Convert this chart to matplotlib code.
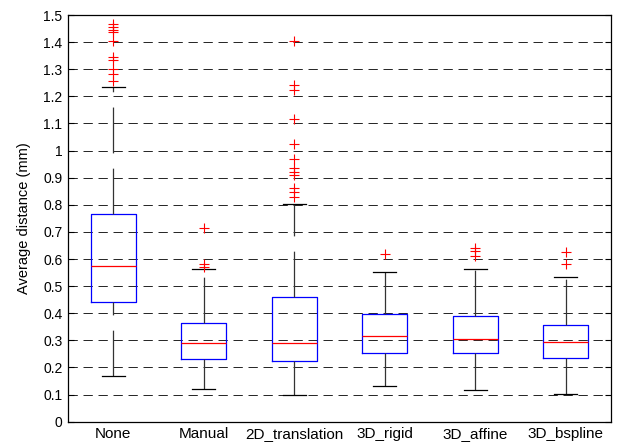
import matplotlib.pyplot as plt
import numpy as np

plt.rcParams['font.family'] = ['Liberation Sans', 'DejaVu Sans']
plt.rcParams['lines.scale_dashes'] = False

# box statistics
labels = ['None', 'Manual', '2D_translation', '3D_rigid', '3D_affine', '3D_bspline']
q1 = [0.443, 0.230, 0.225, 0.252, 0.252, 0.235]
med = [0.575, 0.290, 0.292, 0.316, 0.304, 0.294]
q3 = [0.766, 0.363, 0.461, 0.396, 0.391, 0.358]
whislo = [0.170, 0.120, 0.097, 0.133, 0.117, 0.103]
whishi = [1.233, 0.562, 0.803, 0.552, 0.562, 0.534]

# outliers
out_none = [1.465, 1.455, 1.445, 1.437, 1.405, 1.345, 1.335, 1.300, 1.283, 1.255]
out_manual = [0.713, 0.580, 0.570]
out_2d = [1.404, 1.242, 1.225, 1.115, 1.024, 0.970, 0.934, 0.921, 0.910,
          0.862, 0.846, 0.830]
out_rigid = [0.617]
out_affine = [0.640, 0.628, 0.613]
out_bspline = [0.625, 0.580]
fliers = [out_none, out_manual, out_2d, out_rigid, out_affine, out_bspline]

stats = []
for i in range(len(labels)):
    stats.append({'label': labels[i], 'q1': q1[i], 'med': med[i], 'q3': q3[i],
                  'whislo': whislo[i], 'whishi': whishi[i], 'fliers': fliers[i]})

fig = plt.figure(figsize=(6.22, 4.44), dpi=100)
ax = fig.add_axes([0.1093, 0.0502, 0.873, 0.916])

ax.yaxis.grid(True, color='black', linestyle=(0, (6.7, 4.1)), linewidth=0.6)
ax.set_axisbelow(True)

res = ax.bxp(stats, widths=0.5, capwidths=0.25,
             boxprops=dict(color='blue', linewidth=0.9),
             medianprops=dict(color='red', linewidth=0.9),
             whiskerprops=dict(color='#333333', linewidth=0.9, linestyle=(0, (33, 11))),
             capprops=dict(color='black', linewidth=0.9),
             flierprops=dict(marker='+', markeredgecolor='red', markersize=7,
                             markeredgewidth=0.8, linestyle='none'))

# lower whiskers start their dash pattern at the cap
for w in res['whiskers'][0::2]:
    w.set_ydata(w.get_ydata()[::-1])

ax.set_xlim(0.5, 6.5)
ax.set_ylim(0, 1.5)
ax.set_yticks(np.arange(0, 1.51, 0.1))
ax.set_yticklabels(['0', '0.1', '0.2', '0.3', '0.4', '0.5', '0.6', '0.7', '0.8', '0.9',
                    '1', '1.1', '1.2', '1.3', '1.4', '1.5'])
ax.tick_params(axis='y', direction='in', right=True, length=4, labelsize=10, pad=4)
ax.tick_params(axis='x', length=0, labelsize=11, pad=4)
ax.set_ylabel('Average distance (mm)', fontsize=10.5)
ax.yaxis.set_label_coords(-0.069, 0.5)
for s in ax.spines.values():
    s.set_linewidth(0.9)

fig.savefig('out.png', dpi=100)
